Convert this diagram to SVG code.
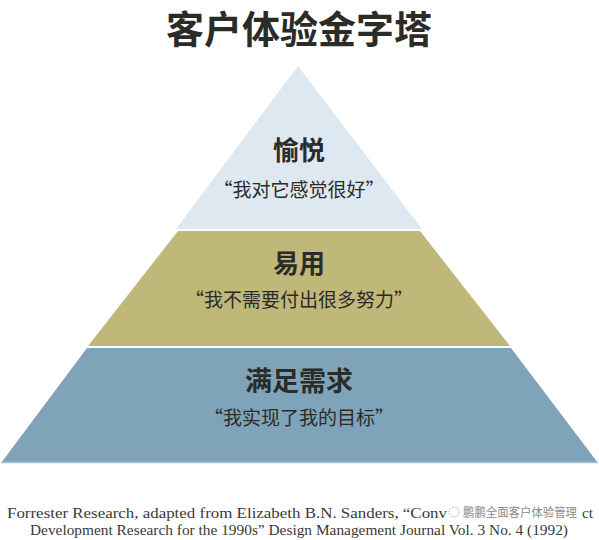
<svg xmlns="http://www.w3.org/2000/svg" width="599" height="540" viewBox="0 0 599 540">
<style>
.cjk{font-family:"Noto Sans CJK SC","Noto Sans",sans-serif;fill:#2b2b28;text-anchor:middle}
.h{font-weight:700}
.q{font-weight:400;font-size:19px}
.cite{font-family:"Liberation Serif","DejaVu Serif","Times New Roman",serif;font-size:15px;fill:#3a3a3a}
.wm{font-family:"Noto Sans CJK SC",sans-serif;font-size:12px;fill:#8a8a8a}
</style>
<rect width="599" height="540" fill="#ffffff"/>
<g id="title"><text class="cjk h" x="299" y="43" font-size="38">客户体验金字塔</text></g>
<g id="top">
<polygon points="298,66 422,229 176,229" fill="#dee8f1"/>
<text class="cjk h" x="299" y="160" font-size="26">愉悦</text>
<text class="cjk q" x="299" y="197">“我对它感觉很好”</text>
</g>
<g id="middle">
<polygon points="178,231 420,231 510,346 88,346" fill="#bfb878"/>
<text class="cjk h" x="299" y="273" font-size="26">易用</text>
<text class="cjk q" x="299" y="307">“我不需要付出很多努力”</text>
</g>
<g id="bottom">
<polygon points="87,348 511,348 598,463 1,463" fill="#7fa3b8"/>
<line x1="1" y1="462.5" x2="598" y2="462.5" stroke="#a9c3d3" stroke-width="1.5"/>
<text class="cjk h" x="299" y="391" font-size="27">满足需求</text>
<text class="cjk q" x="299" y="425">“我实现了我的目标”</text>
</g>
<g id="citation">
<text class="cite" x="7" y="518" textLength="440" lengthAdjust="spacingAndGlyphs">Forrester Research, adapted from Elizabeth B.N. Sanders, “Conv</text>
<circle cx="454" cy="512" r="5" fill="#ffffff" stroke="#bbbbbb" stroke-width="1" stroke-dasharray="2,1"/>
<text class="wm" x="463" y="517" textLength="114" lengthAdjust="spacingAndGlyphs">鹏鹏全面客户体验管理</text>
<text class="cite" x="582" y="518" textLength="11" lengthAdjust="spacingAndGlyphs">ct</text>
<text class="cite" x="30" y="535" textLength="538" lengthAdjust="spacingAndGlyphs">Development Research for the 1990s” Design Management Journal Vol. 3 No. 4 (1992)</text>
</g>
</svg>
